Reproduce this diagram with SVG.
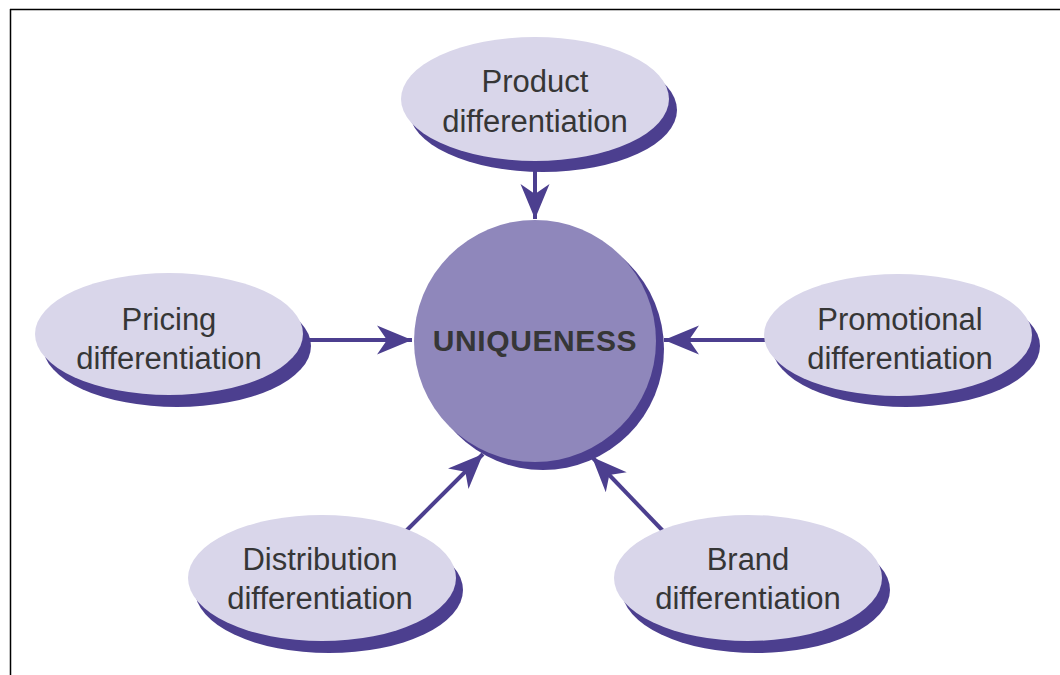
<svg xmlns="http://www.w3.org/2000/svg" width="1060" height="675" viewBox="0 0 1060 675">
  <style>
    .oval { fill: #d9d6ea; }
    .shadow { fill: #4c3f8f; }
    .core { fill: #8f87bb; }
    .lbl { font-family: "Liberation Sans", Arial, Helvetica, sans-serif; font-size: 31px; fill: #363636; text-anchor: middle; }
    .big { font-weight: bold; font-size: 30px; letter-spacing: 0.6px; }
    .conn { stroke: #4c3f8f; stroke-width: 4; fill: none; }
  </style>
  <defs>
    <marker id="ah" viewBox="-36 -16 40 32" refX="0" refY="0" markerWidth="40" markerHeight="32" markerUnits="userSpaceOnUse" orient="auto">
      <path d="M0,0 L-35,-14.5 L-25,0 L-35,14.5 Z" fill="#4c3f8f"/>
    </marker>
  </defs>
  <rect x="0" y="0" width="1060" height="675" fill="#ffffff"/>
  <g id="frame" stroke="#000" stroke-width="1.5" fill="none">
    <line x1="10" y1="9.5" x2="1060" y2="9.5"/>
    <line x1="10.5" y1="9" x2="10.5" y2="675"/>
  </g>
  <g id="connectors">
    <line class="conn" x1="535" y1="160" x2="535" y2="219" marker-end="url(#ah)"/>
    <line class="conn" x1="300" y1="340" x2="412" y2="340" marker-end="url(#ah)"/>
    <line class="conn" x1="770" y1="340" x2="664" y2="340" marker-end="url(#ah)"/>
    <line class="conn" x1="405" y1="532" x2="483" y2="454" marker-end="url(#ah)"/>
    <line class="conn" x1="664" y1="532" x2="592" y2="457" marker-end="url(#ah)"/>
  </g>
  <g id="uniqueness">
    <circle class="shadow" cx="543" cy="349" r="121"/>
    <circle class="core" cx="535" cy="341" r="121"/>
    <text class="lbl big" x="535" y="351">UNIQUENESS</text>
  </g>
  <g id="product">
    <ellipse class="shadow" cx="543" cy="110" rx="134" ry="62"/>
    <ellipse class="oval" cx="535" cy="99" rx="134" ry="62"/>
    <text class="lbl" x="535" y="92">Product</text>
    <text class="lbl" x="535" y="132">differentiation</text>
  </g>
  <g id="pricing">
    <ellipse class="shadow" cx="177" cy="346" rx="134" ry="61"/>
    <ellipse class="oval" cx="169" cy="334" rx="134" ry="61"/>
    <text class="lbl" x="169" y="330">Pricing</text>
    <text class="lbl" x="169" y="369">differentiation</text>
  </g>
  <g id="promotional">
    <ellipse class="shadow" cx="906" cy="346" rx="134" ry="61"/>
    <ellipse class="oval" cx="898" cy="335" rx="134" ry="61"/>
    <text class="lbl" x="900" y="330">Promotional</text>
    <text class="lbl" x="900" y="369">differentiation</text>
  </g>
  <g id="distribution">
    <ellipse class="shadow" cx="329" cy="590" rx="134" ry="63"/>
    <ellipse class="oval" cx="322" cy="578" rx="134" ry="63"/>
    <text class="lbl" x="320" y="570">Distribution</text>
    <text class="lbl" x="320" y="609">differentiation</text>
  </g>
  <g id="brand">
    <ellipse class="shadow" cx="756" cy="590" rx="134" ry="63"/>
    <ellipse class="oval" cx="748" cy="578" rx="134" ry="63"/>
    <text class="lbl" x="748" y="570">Brand</text>
    <text class="lbl" x="748" y="609">differentiation</text>
  </g>
</svg>
